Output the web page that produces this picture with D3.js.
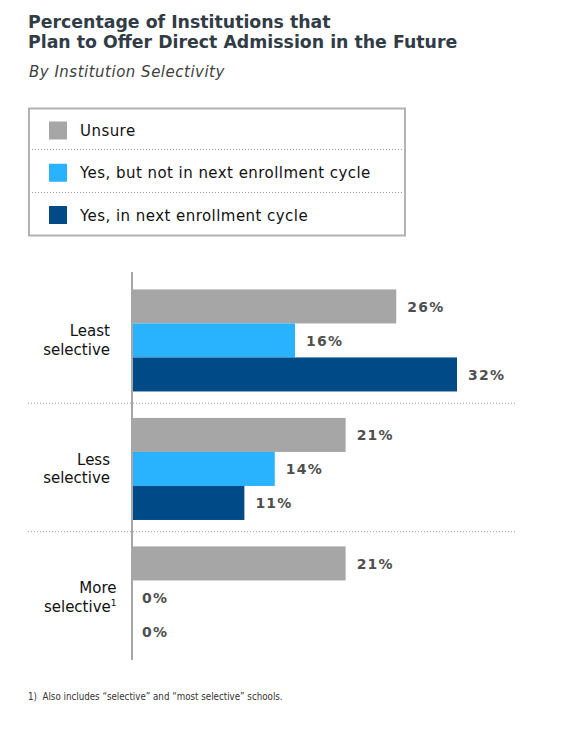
<!DOCTYPE html>
<html>
<head>
<meta charset="utf-8">
<script src="https://cdn.jsdelivr.net/npm/d3@7"></script>
<style>
  html, body { margin: 0; padding: 0; background: #fff; }
  svg { display: block; }
</style>
</head>
<body>
<svg id="chart" width="574" height="736"></svg>
<script>
// ---- data ----
const categories = ["Least selective", "Less selective", "More selective"];
const categoryLines = [["Least", "selective"], ["Less", "selective"], ["More", "selective"]];
const categoryFootnote = [null, null, "1"];
const seriesNames = ["Unsure", "Yes, but not in next enrollment cycle", "Yes, in next enrollment cycle"];
const seriesColors = ["#a6a6a6", "#29b2fe", "#004a87"];
const unsure = [26, 21, 21];
const yesLater = [16, 14, 0];
const yesNext = [32, 11, 0];
const seriesValues = [unsure, yesLater, yesNext];
const titleLines = ["Percentage of Institutions that", "Plan to Offer Direct Admission in the Future"];
const subtitle = "By Institution Selectivity";
const footnote = "1)\u00a0\u00a0Also includes \u201cselective\u201d and \u201cmost selective\u201d schools.";

const svg = d3.select("#chart");
const fontMain = "Verdana, 'DejaVu Sans', sans-serif";

// ---- title ----
svg.selectAll("text.title").data(titleLines).join("text")
  .attr("class", "title")
  .attr("x", 28).attr("y", (d, i) => 27.5 + i * 20.5)
  .attr("font-family", fontMain).attr("font-weight", "bold")
  .attr("font-size", 17.35).attr("fill", "#313c46")
  .text(d => d);

svg.append("text")
  .attr("x", 29).attr("y", 77)
  .attr("font-family", fontMain).attr("font-style", "italic")
  .attr("font-size", 15).attr("letter-spacing", 0.5).attr("fill", "#404040")
  .text(subtitle);

// ---- legend ----
const legend = svg.append("g");
legend.append("rect")
  .attr("x", 29).attr("y", 108.5).attr("width", 376).attr("height", 127)
  .attr("fill", "none").attr("stroke", "#b3b3b3").attr("stroke-width", 2);
const legendY = d3.scalePoint().domain(seriesNames).range([130.5, 215]);
[149.5, 192.5].forEach(y => {
  legend.append("line").attr("x1", 32).attr("x2", 402).attr("y1", y).attr("y2", y)
    .attr("stroke", "#9a9a9a").attr("stroke-width", 1).attr("stroke-dasharray", "1,2");
});
const li = legend.selectAll("g.li").data(seriesNames).join("g").attr("class", "li")
  .attr("transform", d => `translate(0,${legendY(d)})`);
li.append("rect").attr("x", 49).attr("y", -9).attr("width", 18).attr("height", 18)
  .attr("fill", (d, i) => seriesColors[i]);
li.append("text").attr("x", 80).attr("y", 5.5)
  .attr("font-family", fontMain).attr("font-size", 15).attr("letter-spacing", 0.45).attr("fill", "#111")
  .text(d => d);

// ---- chart ----
const x = d3.scaleLinear().domain([0, 40]).range([133, 538]);
const y = d3.scaleBand().domain(categories).range([276.2, 661.7]).paddingInner(0.206).paddingOuter(0.103);
const ySub = d3.scaleBand().domain(seriesNames).range([0, y.bandwidth()]);

// separators
categories.slice(0, -1).forEach((c, i) => {
  const yy = (y(c) + y.bandwidth() + y(categories[i + 1])) / 2 - 1.5;
  svg.append("line").attr("x1", 28).attr("x2", 517).attr("y1", yy).attr("y2", yy)
    .attr("stroke", "#9a9a9a").attr("stroke-width", 1).attr("stroke-dasharray", "1,2");
});

const groups = svg.selectAll("g.grp").data(categories).join("g").attr("class", "grp")
  .attr("transform", d => `translate(0,${y(d)})`);

const barData = (c, ci) => seriesNames.map((s, si) => ({ s, si, v: seriesValues[si][ci] }));

groups.each(function (c, ci) {
  const g = d3.select(this);
  const data = barData(c, ci);
  g.selectAll("rect").data(data).join("rect")
    .attr("x", x(0)).attr("y", d => ySub(d.s))
    .attr("width", d => x(d.v) - x(0)).attr("height", ySub.bandwidth())
    .attr("fill", d => seriesColors[d.si]);
  g.selectAll("text.val").data(data).join("text").attr("class", "val")
    .attr("x", d => x(d.v) + (d.v === 0 ? 9 : 11))
    .attr("y", d => ySub(d.s) + ySub.bandwidth() / 2 + 5.5)
    .attr("font-family", fontMain).attr("font-weight", "bold")
    .attr("font-size", 14).attr("letter-spacing", 1.2).attr("fill", "#4f4f4f")
    .text(d => d.v + "%");

  // category label
  const mid = y.bandwidth() / 2;
  const lx = categoryFootnote[ci] ? 116.5 : 110;
  const lines = categoryLines[ci];
  lines.forEach((ln, k) => {
    const t = g.append("text").attr("x", lx).attr("y", mid - 4 + k * 18.5)
      .attr("text-anchor", "end")
      .attr("font-family", fontMain).attr("font-size", 15).attr("fill", "#111")
      .text(ln);
    if (k === lines.length - 1 && categoryFootnote[ci]) {
      t.append("tspan").attr("font-size", 9).attr("dy", -6).text(categoryFootnote[ci]);
    }
  });
});

// axis line
svg.append("line").attr("x1", 132).attr("x2", 132).attr("y1", 272).attr("y2", 660)
  .attr("stroke", "#a6a6a6").attr("stroke-width", 2);

// footnote
svg.append("text").attr("x", 28).attr("y", 700)
  .attr("font-family", "Tahoma, 'DejaVu Sans Condensed', sans-serif").attr("font-size", 9.7)
  .attr("fill", "#333")
  .text(footnote);
</script>
</body>
</html>
